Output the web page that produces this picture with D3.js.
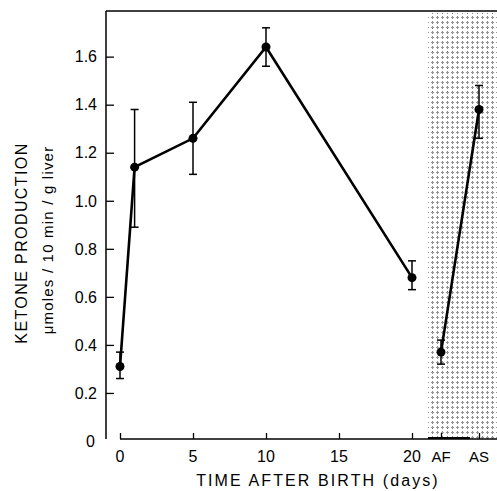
<!DOCTYPE html>
<html>
<head>
<meta charset="utf-8">
<script src="https://cdn.jsdelivr.net/npm/d3@7"></script>
<style>
body { margin: 0; background: #fff; }
svg { font-family: "Liberation Sans", Arial, sans-serif; }
</style>
</head>
<body>
<div id="chart"></div>
<script>
// days after birth
var days = [0, 1, 5, 10, 20];
var dayMean = [0.31, 1.14, 1.26, 1.64, 0.68];
var dayLow = [0.26, 0.89, 1.11, 1.56, 0.63];
var dayHigh = [0.37, 1.38, 1.41, 1.72, 0.75];

// adult groups (shaded)
var adults = ["AF", "AS"];
var adultMean = [0.37, 1.38];
var adultLow = [0.32, 1.26];
var adultHigh = [0.42, 1.48];

var dayTicks = [0, 5, 10, 15, 20];
var yTicks = [0, 0.2, 0.4, 0.6, 0.8, 1.0, 1.2, 1.4, 1.6];

var width = 497, height = 491;
var pLeft = 106, pTop = 11, pBottom = 439, pRight = 497, shadeX = 428;

var svg = d3.select("#chart").append("svg")
    .attr("width", width)
    .attr("height", height);

var x = d3.scaleLinear().domain([0, 20]).range([120, 412]);
var xa = d3.scalePoint().domain(adults).range([441, 479]);
var y = d3.scaleLinear().domain([0, 1.79]).range([441, 11]);

// stipple pattern for the adult panel
var pat = svg.append("defs").append("pattern")
    .attr("id", "dots")
    .attr("width", 5).attr("height", 5)
    .attr("patternUnits", "userSpaceOnUse");
pat.append("rect").attr("x", 2).attr("y", 1).attr("width", 1).attr("height", 1).attr("fill", "#888");
pat.append("rect").attr("x", 1).attr("y", 2).attr("width", 3).attr("height", 1).attr("fill", "#999");
pat.append("rect").attr("x", 2).attr("y", 3).attr("width", 1).attr("height", 1).attr("fill", "#888");

svg.append("rect")
    .attr("x", shadeX).attr("y", pTop + 2)
    .attr("width", pRight - shadeX).attr("height", pBottom - pTop - 2)
    .attr("fill", "url(#dots)");

// frame
svg.append("line").attr("x1", pLeft).attr("x2", pRight).attr("y1", pTop).attr("y2", pTop)
    .attr("stroke", "#000").attr("stroke-width", 1.5);
svg.append("line").attr("x1", pLeft).attr("x2", pLeft).attr("y1", pTop).attr("y2", pBottom)
    .attr("stroke", "#000").attr("stroke-width", 1.5);
svg.append("line").attr("x1", x(0)).attr("x2", pRight).attr("y1", pBottom).attr("y2", pBottom)
    .attr("stroke", "#000").attr("stroke-width", 1.5);

// y axis, ticks inside
var yAxis = d3.axisRight(y).tickValues(yTicks.slice(1)).tickSize(8).tickFormat("");
var ya = svg.append("g").attr("transform", "translate(" + pLeft + ",0)").call(yAxis);
ya.select(".domain").remove();
ya.selectAll("line").attr("stroke-width", 1.3);

svg.selectAll(".ylab").data(yTicks).enter().append("text")
    .attr("class", "ylab")
    .attr("x", function(d) { return d == 0 ? 95 : 97; })
    .attr("y", function(d) { return y(d); })
    .attr("dy", "0.36em")
    .attr("text-anchor", "end")
    .attr("font-size", 16)
    .text(function(d) { return d == 0 ? "0" : d.toFixed(1); });

// x axis, ticks upward
var xAxis = d3.axisTop(x).tickValues(dayTicks).tickSize(6).tickFormat("");
var xg = svg.append("g").attr("transform", "translate(0," + pBottom + ")").call(xAxis);
xg.select(".domain").remove();
xg.selectAll("line").attr("stroke-width", 1.3);

var xaAxis = d3.axisTop(xa).tickSize(6).tickFormat("");
var xag = svg.append("g").attr("transform", "translate(0," + pBottom + ")").call(xaAxis);
xag.select(".domain").remove();
xag.selectAll("line").attr("stroke-width", 1.3);

svg.append("line").attr("x1", shadeX).attr("x2", 470).attr("y1", pBottom - 1).attr("y2", pBottom - 1)
    .attr("stroke", "#000").attr("stroke-width", 2);

svg.selectAll(".xlab").data(dayTicks).enter().append("text")
    .attr("class", "xlab")
    .attr("x", function(d) { return x(d); })
    .attr("y", 462)
    .attr("text-anchor", "middle")
    .attr("font-size", 16)
    .text(function(d) { return d; });

svg.selectAll(".xalab").data(adults).enter().append("text")
    .attr("class", "xalab")
    .attr("x", function(d) { return xa(d); })
    .attr("y", 462)
    .attr("text-anchor", "middle")
    .attr("font-size", 15)
    .text(function(d) { return d; });

// axis titles
svg.append("text")
    .attr("x", 318).attr("y", 486)
    .attr("text-anchor", "middle")
    .attr("font-size", 16)
    .attr("letter-spacing", 2.1)
    .text("TIME AFTER BIRTH (days)");

svg.append("text")
    .attr("transform", "translate(27,243) rotate(-90)")
    .attr("text-anchor", "middle")
    .attr("font-size", 16)
    .attr("letter-spacing", 1.4)
    .text("KETONE PRODUCTION");

svg.append("text")
    .attr("transform", "translate(53,240) rotate(-90)")
    .attr("text-anchor", "middle")
    .attr("font-size", 15)
    .attr("letter-spacing", 1.2)
    .text("\u03bcmoles / 10 min / g liver");

// data
var dayPts = days.map(function(d, i) {
    return { x: x(d), m: dayMean[i], lo: dayLow[i], hi: dayHigh[i] };
});
var adultPts = adults.map(function(d, i) {
    return { x: xa(d), m: adultMean[i], lo: adultLow[i], hi: adultHigh[i] };
});

var line = d3.line()
    .x(function(d) { return d.x; })
    .y(function(d) { return y(d.m); });

[dayPts, adultPts].forEach(function(pts) {
    svg.append("path")
        .datum(pts)
        .attr("d", line)
        .attr("fill", "none")
        .attr("stroke", "#000")
        .attr("stroke-width", 2.6);

    var g = svg.append("g").selectAll("g").data(pts).enter().append("g");
    g.append("line")
        .attr("x1", function(d) { return d.x; })
        .attr("x2", function(d) { return d.x; })
        .attr("y1", function(d) { return y(d.lo); })
        .attr("y2", function(d) { return y(d.hi); })
        .attr("stroke", "#000").attr("stroke-width", 1.5);
    [function(d) { return y(d.lo); }, function(d) { return y(d.hi); }].forEach(function(fy) {
        g.append("line")
            .attr("x1", function(d) { return d.x - 4; })
            .attr("x2", function(d) { return d.x + 4; })
            .attr("y1", fy).attr("y2", fy)
            .attr("stroke", "#000").attr("stroke-width", 1.5);
    });
    g.append("circle")
        .attr("cx", function(d) { return d.x; })
        .attr("cy", function(d) { return y(d.m); })
        .attr("r", 4.5)
        .attr("fill", "#000");
});
</script>
</body>
</html>
